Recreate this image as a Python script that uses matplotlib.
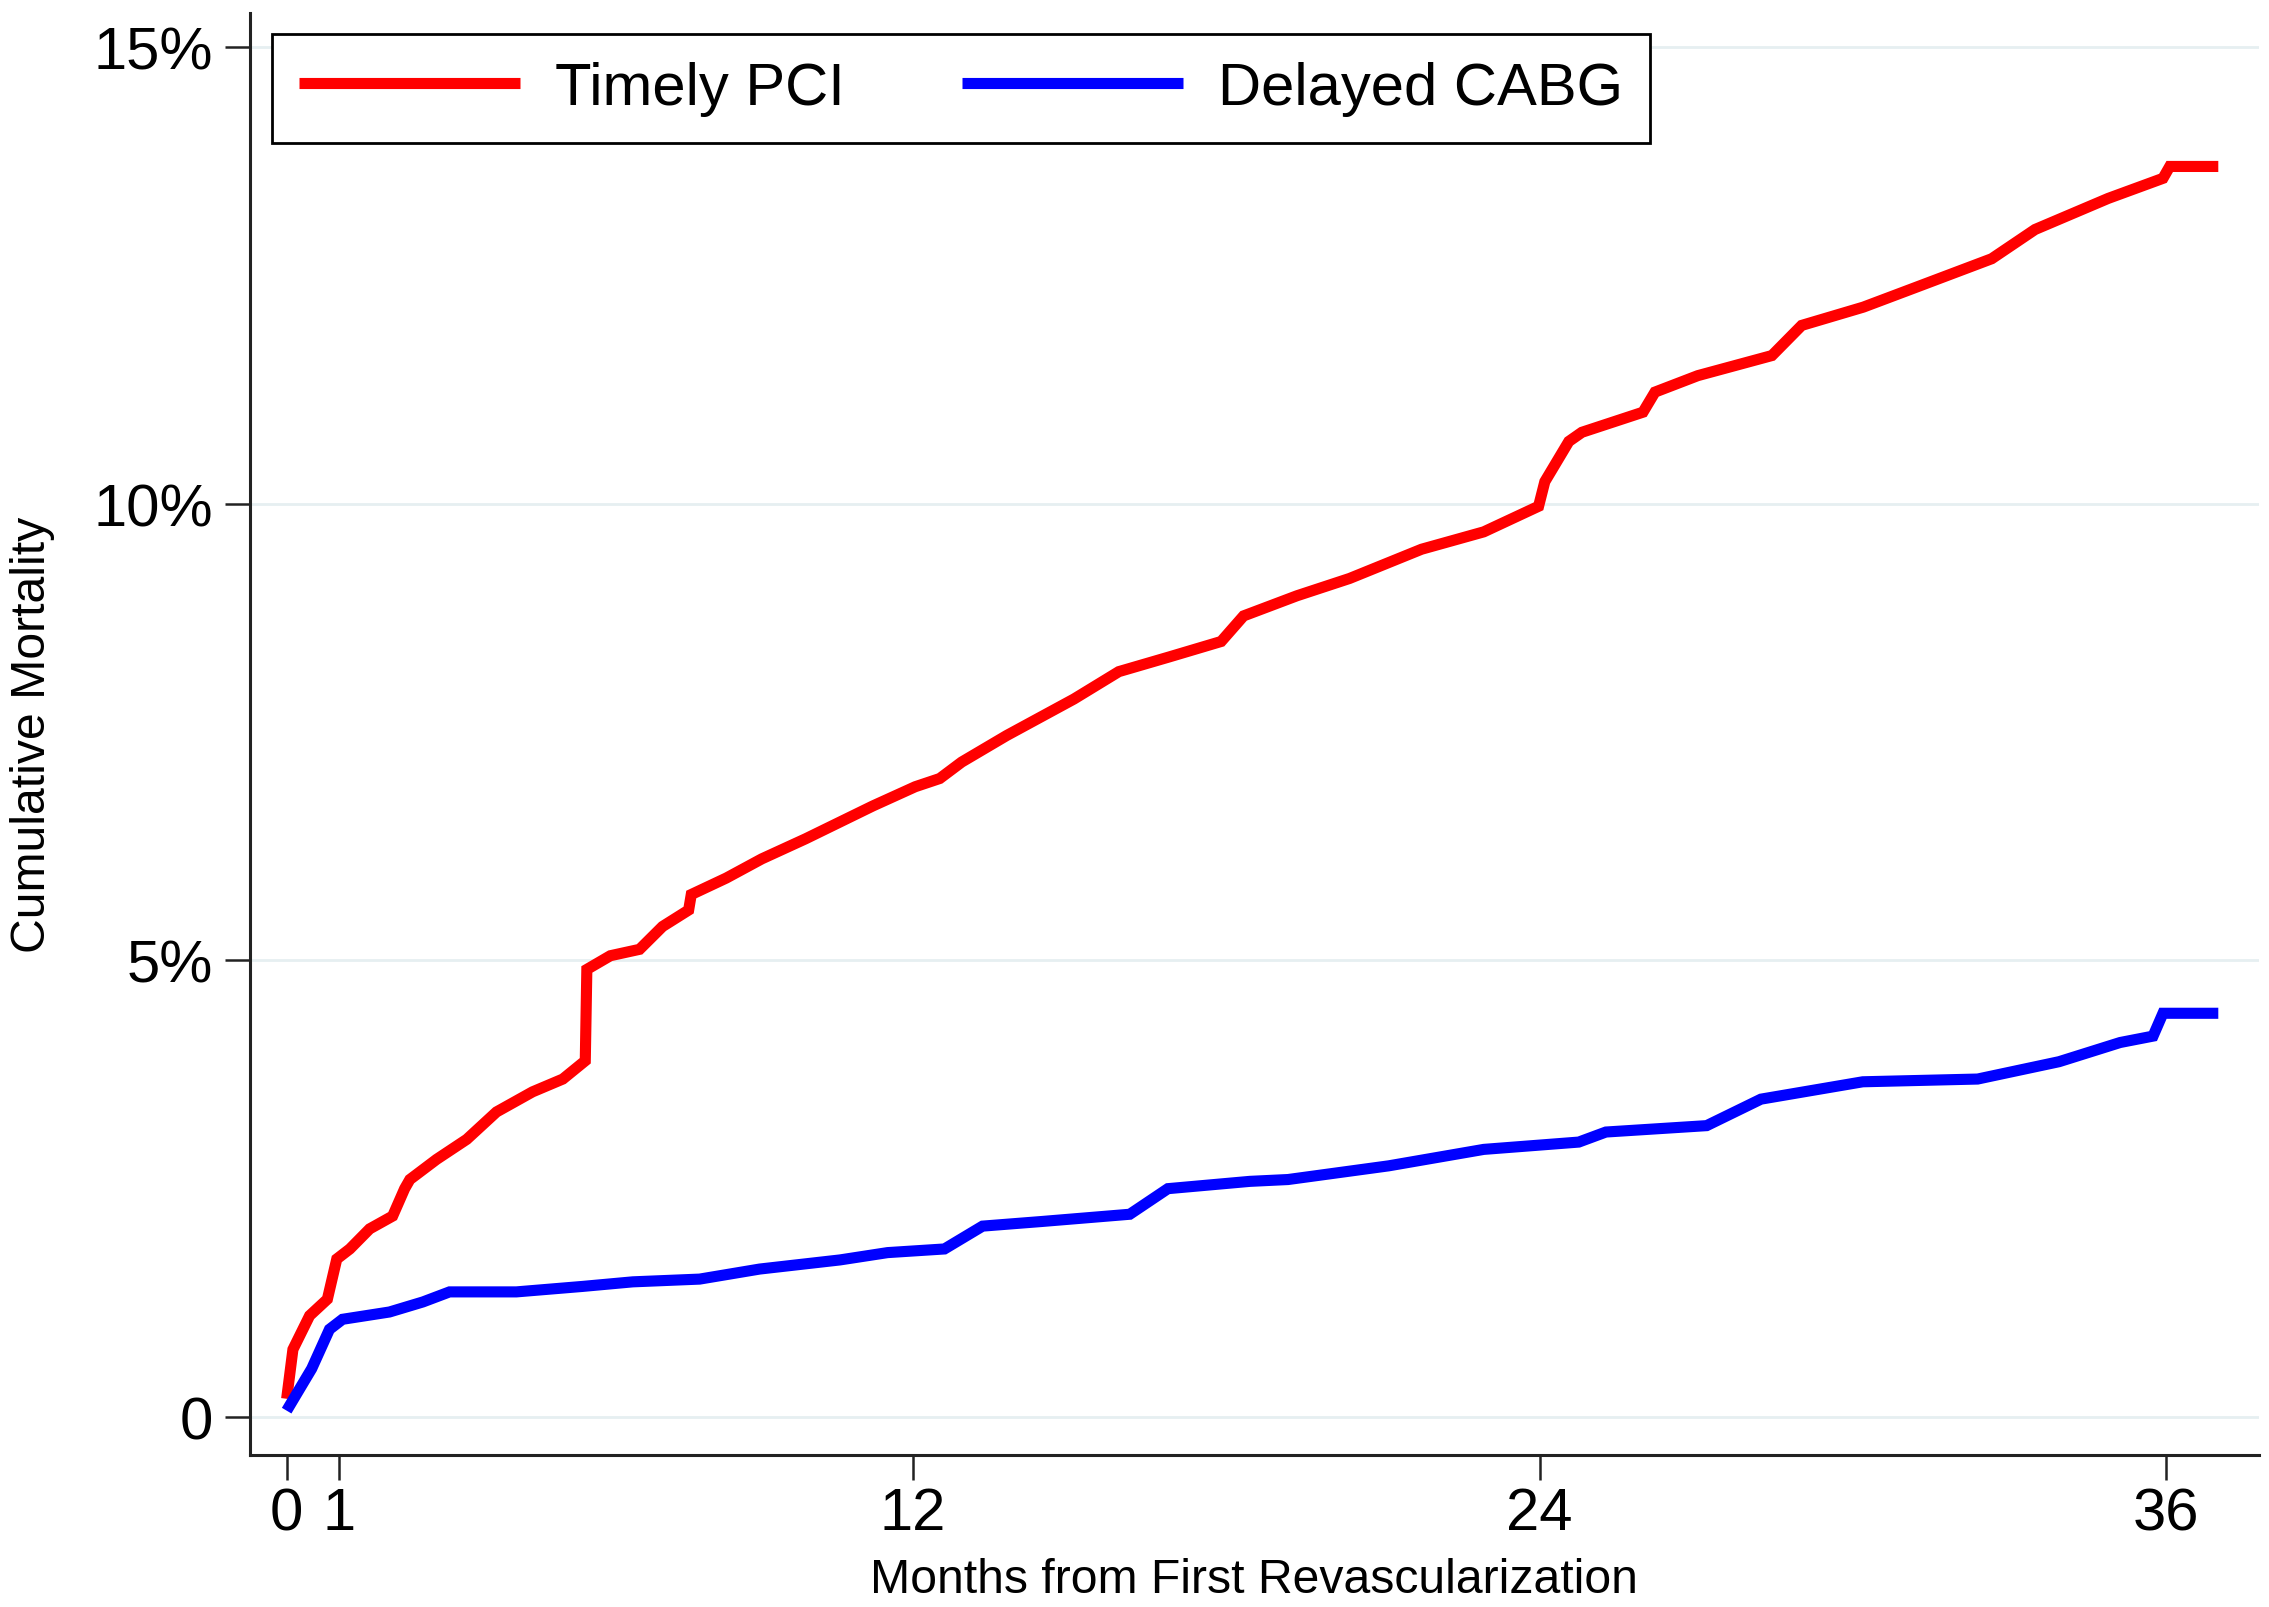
import numpy as np
import matplotlib.pyplot as plt

# values (months, cumulative mortality in %)
months_pci = [0.0, 0.12, 0.44, 0.78, 0.96, 1.21, 1.59, 2.03, 2.26, 2.36, 2.87, 3.45, 4.02, 4.71,
              5.29, 5.72, 5.75, 6.2, 6.76, 7.2, 7.7, 7.75, 8.42, 9.1, 9.94, 11.23, 12.04, 12.51,
              12.93, 13.79, 15.08, 15.94, 16.9, 17.9, 18.33, 19.35, 20.36, 21.74, 22.93, 23.98,
              24.1, 24.56, 24.81, 25.98, 26.21, 27.03, 28.45, 29.02, 30.2, 31.13, 32.66, 33.49,
              34.89, 35.94, 36.07, 37.0]
mort_pci = [0.2, 0.74, 1.11, 1.29, 1.73, 1.84, 2.06, 2.2, 2.5, 2.6, 2.82, 3.04, 3.34, 3.56,
            3.7, 3.9, 4.9, 5.05, 5.12, 5.37, 5.55, 5.72, 5.9, 6.11, 6.33, 6.69, 6.9, 6.99,
            7.17, 7.46, 7.86, 8.16, 8.32, 8.49, 8.77, 8.99, 9.18, 9.5, 9.69, 9.97,
            10.24, 10.68, 10.78, 11.0, 11.22, 11.4, 11.62, 11.95, 12.15, 12.35, 12.68, 13.0,
            13.34, 13.56, 13.69, 13.69]

months_cabg = [0.0, 0.25, 0.48, 0.82, 1.07, 1.97, 2.61, 3.12, 4.4, 5.67, 6.63, 7.91, 9.06,
               10.6, 11.51, 12.6, 13.33, 14.45, 16.15, 16.88, 18.45, 19.18, 21.11, 22.93,
               24.75, 25.27, 27.2, 28.24, 30.19, 32.39, 33.95, 35.12, 35.75, 35.94, 37.0]
mort_cabg = [0.07, 0.31, 0.53, 0.96, 1.07, 1.15, 1.26, 1.37, 1.37, 1.43, 1.48, 1.51, 1.62,
             1.72, 1.8, 1.84, 2.09, 2.14, 2.22, 2.5, 2.58, 2.6, 2.75, 2.93,
             3.01, 3.12, 3.19, 3.48, 3.67, 3.7, 3.89, 4.1, 4.17, 4.42, 4.42]

x_ticks = [0, 1, 12, 24, 36]
y_ticks = [0, 5, 10, 15]
y_tick_labels = ["0", "5%", "10%", "15%"]

plt.rcParams['font.family'] = ['Liberation Sans', 'DejaVu Sans']

fig = plt.figure(figsize=(22.69, 16.08), dpi=100)
ax = fig.add_axes([0.110, 0.0945, 0.8856, 0.8968])

grid_col = "#e6eff1"
for y in y_ticks:
    ax.axhline(y, color=grid_col, lw=2, zorder=0)

ax.plot(months_pci, mort_pci, color="#ff0000", lw=8, label="Timely PCI",
        solid_joinstyle="miter", solid_capstyle="butt", zorder=3)
ax.plot(months_cabg, mort_cabg, color="#0000ff", lw=8, label="Delayed CABG",
        solid_joinstyle="miter", solid_capstyle="butt", zorder=3)

ax.set_xlim(-0.71, 37.78)
ax.set_ylim(-0.416, 15.37)

ax.set_xticks(x_ticks)
ax.set_yticks(y_ticks)
ax.set_yticklabels(y_tick_labels)

for side in ["top", "right"]:
    ax.spines[side].set_visible(False)
for side in ["left", "bottom"]:
    ax.spines[side].set_linewidth(2.2)
    ax.spines[side].set_color("#222222")

ax.tick_params(axis="both", direction="out", length=18, width=1.8, color="#222222",
               labelsize=43)
ax.tick_params(axis="x", pad=4.5)
ax.tick_params(axis="y", pad=8)

ax.set_ylabel("Cumulative Mortality", fontsize=34.7)
ax.set_xlabel("Months from First Revascularization", fontsize=34.7)
ax.yaxis.set_label_coords(-0.097, 0.5)
ax.xaxis.set_label_coords(0.5, -0.071)

leg = ax.legend(loc="upper left", bbox_to_anchor=(0.011, 0.9854), ncol=2, fontsize=43,
                frameon=True, fancybox=False, framealpha=1, edgecolor="black",
                borderaxespad=0, borderpad=0.45, handlelength=3.7, handletextpad=0.6,
                columnspacing=1.95)
leg.get_frame().set_linewidth(2)

fig.savefig("out.png", dpi=100)
